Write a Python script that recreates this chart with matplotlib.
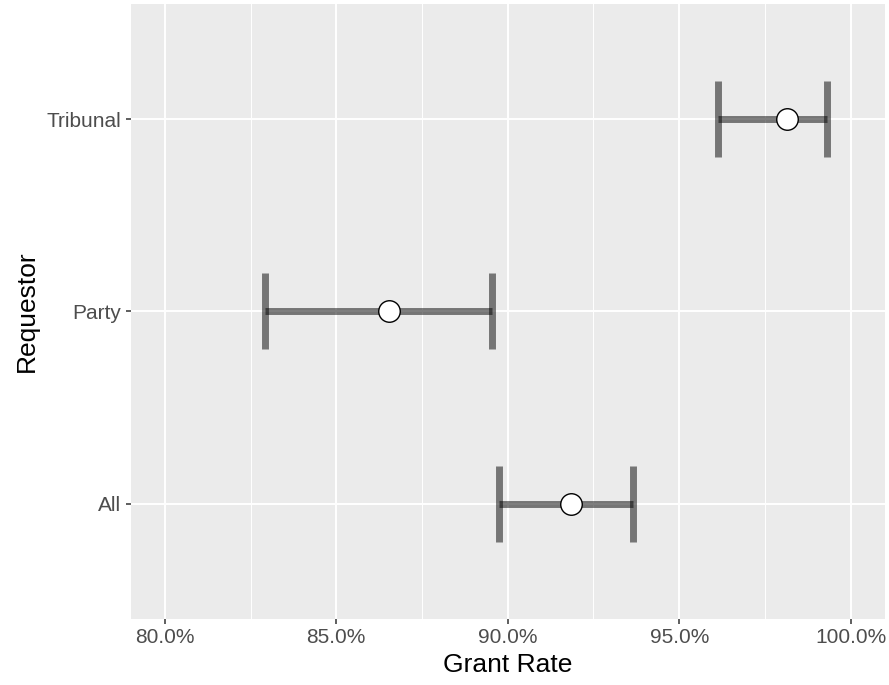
import matplotlib.pyplot as plt
from matplotlib.ticker import MultipleLocator, FuncFormatter

plt.rcParams['font.family'] = ['Liberation Sans', 'DejaVu Sans']

requestors = ["All", "Party", "Tribunal"]
rate = [91.85, 86.55, 98.15]
lower = [89.75, 82.92, 96.12]
upper = [93.64, 89.55, 99.30]

ypos = list(range(1, len(requestors) + 1))
err_lo = [r - l for r, l in zip(rate, lower)]
err_hi = [u - r for r, u in zip(rate, upper)]

fig = plt.figure(figsize=(8.89, 6.85), dpi=100)
ax = fig.add_axes([0.1468, 0.0964, 0.8487, 0.8978])
ax.set_facecolor("#ebebeb")

ax.errorbar(rate, ypos, xerr=[err_lo, err_hi], fmt="none", ecolor="black",
            elinewidth=5, capsize=27.7, capthick=5, alpha=0.5, zorder=3)
ax.plot(rate, ypos, "o", markersize=15.5, markerfacecolor="white",
        markeredgecolor="black", markeredgewidth=1.0, zorder=4)

ax.set_xlim(79, 101)
ax.set_ylim(0.4, 3.6)
ax.xaxis.set_major_locator(MultipleLocator(5))
ax.xaxis.set_minor_locator(MultipleLocator(2.5))
ax.xaxis.set_major_formatter(FuncFormatter(lambda v, p: f"{v:.1f}%"))
ax.set_yticks(ypos)
ax.set_yticklabels(requestors)

ax.grid(which="major", color="white", linewidth=1.4)
ax.grid(which="minor", axis="x", color="white", linewidth=0.7)
ax.set_axisbelow(True)
for s in ax.spines.values():
    s.set_visible(False)

ax.tick_params(which="major", length=3.5, width=1.1, color="#333333",
               labelsize=15, labelcolor="#4d4d4d", pad=3)
ax.tick_params(which="minor", length=0)

ax.set_xlabel("Grant Rate", fontsize=19, labelpad=4)
ax.set_ylabel("Requestor", fontsize=19, labelpad=6)

fig.savefig("out.png", dpi=100)
